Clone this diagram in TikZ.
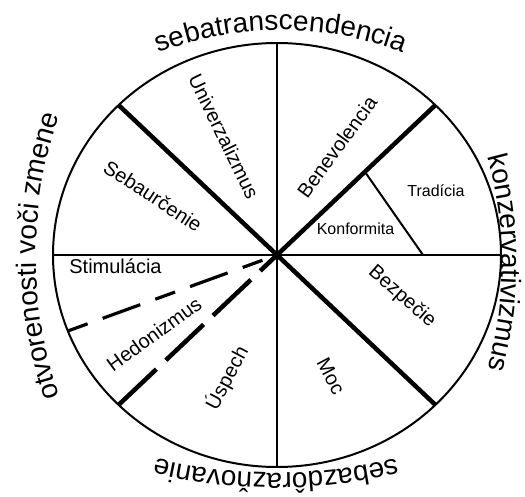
\documentclass[tikz,border=0pt]{standalone}
\usepackage{fontspec}
\setmainfont{Liberation Sans}
\usetikzlibrary{calc,decorations.text}
\newcommand\olabfont{\fontsize{28}{30}\selectfont}
\newcommand\ilabfont{\fontsize{20}{23}\selectfont}
\newcommand\slabfont{\fontsize{16}{18}\selectfont}
\tikzset{
  thinline/.style={line width=2pt},
  thickline/.style={line width=4.5pt},
  lab/.style={inner sep=0pt, font=\ilabfont},
  smalllab/.style={inner sep=0pt, font=\slabfont},
  arctext/.style={decorate, decoration={text along path, text align=center, text={|\olabfont|#1}}},
}
\begin{document}
\begin{tikzpicture}[x=1pt,y=1pt]
\useasboundingbox (0,0) rectangle (525,496);
\coordinate (C) at (277,241);
\coordinate (top) at ($(C)+(90:224 and 212)$);
\coordinate (bot) at ($(C)+(270:224 and 212)$);
\coordinate (lft) at ($(C)+(180:224 and 212)$);
\coordinate (rgt) at ($(C)+(0:224 and 212)$);
\coordinate (p45) at ($(C)+(45:224 and 212)$);
\coordinate (p135) at ($(C)+(135:224 and 212)$);
\coordinate (p225) at ($(C)+(225:224 and 212)$);
\coordinate (p315) at ($(C)+(315:224 and 212)$);
\coordinate (p201) at ($(C)+(201:224 and 212)$);
\coordinate (kA) at ($(C)!0.555!(p45)$);
\coordinate (kB) at (423,241);
% circle
\draw[thinline] (C) ellipse [x radius=224, y radius=212];
% straight dividers
\draw[thinline] (top) -- (bot);
\draw[thinline] (lft) -- (rgt);
\draw[thinline] (kA) -- (kB);
\draw[thickline] (p135) -- (C);
\draw[thickline] (p45) -- (C);
\draw[thickline] (p315) -- (C);
\draw[thickline, dash pattern=on 52pt off 13pt] (p225) -- (C);
\draw[line width=3.2pt, dash pattern=on 21pt off 16pt on 40pt off 16pt] (p201) -- (C);
\fill (C) circle [radius=4];
% inner labels
\node[lab, rotate=-64] (univ) at (224,360) {Univerzalizmus};
\node[lab, rotate=-33] (seba) at (153,300) {Sebaurčenie};
\node[lab, rotate=54] (bene) at (337,349) {Benevolencia};
\node[smalllab] (trad) at (436,305) {Tradícia};
\node[smalllab] (konf) at (355.5,267) {Konformita};
\node[lab] (stim) at (115.5,230) {Stimulácia};
\node[lab, rotate=36] (hedo) at (154,162) {Hedonizmus};
\node[lab, rotate=62] (uspe) at (227,118) {Úspech};
\node[lab, rotate=-62] (moc) at (331,120) {Moc};
\node[lab, rotate=-41] (bezp) at (402,199) {Bezpečie};
% outer labels
\path[arctext={sebatranscendencia}]
  ([shift={(281,129)}]120:337) arc[start angle=120, end angle=60, radius=337];
\path[arctext={sebazdôrazňovanie}]
  ([shift={(276,523)}]-70:500) arc[start angle=-70, end angle=-110, radius=500];
\path[arctext={konzervativizmus}]
  ([shift={(102,233)}]25:400) arc[start angle=25, end angle=-25, radius=400];
\path[arctext={otvorenosti voči zmene}]
  ([shift={(476,240)}]205:440) arc[start angle=205, end angle=155, radius=440];
\end{tikzpicture}
\end{document}
